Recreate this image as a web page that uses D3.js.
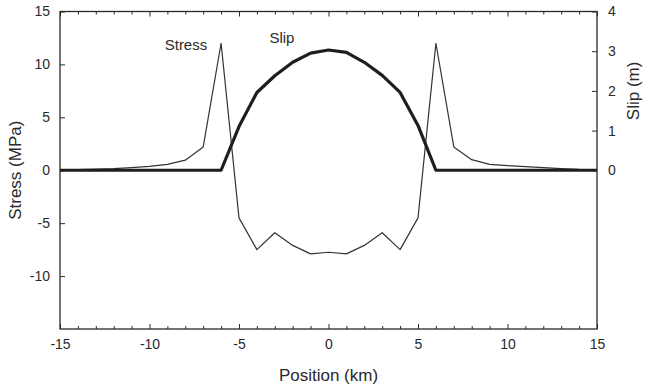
<!DOCTYPE html>
<html>
<head>
<meta charset="utf-8">
<script src="https://cdn.jsdelivr.net/npm/d3@7"></script>
<style>
  body { margin: 0; background: #fff; }
  svg { font-family: "Liberation Sans", Arial, sans-serif; }
</style>
</head>
<body>
<div id="chart"></div>
<script>
const positions = [-15, -14, -13, -12, -11, -10, -9, -8, -7, -6, -5, -4, -3, -2, -1, 0,
  1, 2, 3, 4, 5, 6, 7, 8, 9, 10, 11, 12, 13, 14, 15];
const stress = [0.05, 0.07, 0.1, 0.15, 0.25, 0.37, 0.55, 0.95, 2.2, 12, -4.5, -7.5, -5.9, -7.1, -7.9, -7.75,
  -7.9, -7.1, -5.9, -7.5, -4.5, 12, 2.2, 1.0, 0.55, 0.44, 0.35, 0.25, 0.15, 0.08, 0.05];
const slip = [0, 0, 0, 0, 0, 0, 0, 0, 0, 0, 1.1, 1.96, 2.38, 2.72, 2.95, 3.03,
  2.97, 2.72, 2.39, 1.96, 1.13, 0, 0, 0, 0, 0, 0, 0, 0, 0, 0];
const xTicks = [-15, -10, -5, 0, 5, 10, 15];
const stressTicks = [-10, -5, 0, 5, 10, 15];
const slipTicks = [0, 1, 2, 3, 4];

const width = 648;
const height = 387;
const margin = { top: 11.5, right: 51, bottom: 58, left: 60 };
const innerW = width - margin.left - margin.right;
const innerH = height - margin.top - margin.bottom;

const svg = d3
  .select("#chart")
  .append("svg")
  .attr("width", width)
  .attr("height", height);

const g = svg
  .append("g")
  .attr("transform", `translate(${margin.left},${margin.top})`);

const xScale = d3.scaleLinear().domain([-15, 15]).range([0, innerW]);
const yStress = d3.scaleLinear().domain([-15, 15]).range([innerH, 0]);
const ySlip = d3.scaleLinear().domain([-4, 4]).range([innerH, 0]);

const ink = "#2a2a2a";
const plain = (d) => String(d); // keep ascii hyphen like the scan

// minor x ticks, every km, top and bottom
const xMinor = positions.filter((p) => !xTicks.includes(p));

g.append("g")
  .attr("transform", `translate(0,${innerH})`)
  .call(d3.axisBottom(xScale).tickValues(xTicks).tickFormat(plain).tickSizeInner(-5).tickSizeOuter(0).tickPadding(10))
  .call((a) => a.select(".domain").remove())
  .call((a) => a.selectAll("text").style("font-size", "14px").attr("fill", ink).attr("dy", "0.71em"))
  .call((a) => a.selectAll("line").attr("stroke", ink));

g.append("g")
  .attr("transform", `translate(0,${innerH})`)
  .call(d3.axisBottom(xScale).tickValues(xMinor).tickSizeInner(-3).tickSizeOuter(0).tickFormat(""))
  .call((a) => a.select(".domain").remove())
  .call((a) => a.selectAll("line").attr("stroke", ink));

g.append("g")
  .call(d3.axisTop(xScale).tickValues(xTicks).tickSizeInner(-5).tickSizeOuter(0).tickFormat(""))
  .call((a) => a.select(".domain").remove())
  .call((a) => a.selectAll("line").attr("stroke", ink));

g.append("g")
  .call(d3.axisTop(xScale).tickValues(xMinor).tickSizeInner(-3).tickSizeOuter(0).tickFormat(""))
  .call((a) => a.select(".domain").remove())
  .call((a) => a.selectAll("line").attr("stroke", ink));

// left stress axis
g.append("g")
  .call(d3.axisLeft(yStress).tickValues(stressTicks).tickFormat(plain).tickSizeInner(-5).tickSizeOuter(0).tickPadding(10))
  .call((a) => a.select(".domain").remove())
  .call((a) => a.selectAll("text").style("font-size", "14px").attr("fill", ink))
  .call((a) => a.selectAll("line").attr("stroke", ink));

// right slip axis
g.append("g")
  .attr("transform", `translate(${innerW},0)`)
  .call(d3.axisRight(ySlip).tickValues(slipTicks).tickFormat(plain).tickSizeInner(-5).tickSizeOuter(0).tickPadding(11))
  .call((a) => a.select(".domain").remove())
  .call((a) => a.selectAll("text").style("font-size", "14px").attr("fill", ink))
  .call((a) => a.selectAll("line").attr("stroke", ink));

// frame
g.append("rect")
  .attr("x", 0)
  .attr("y", 0)
  .attr("width", innerW)
  .attr("height", innerH)
  .attr("fill", "none")
  .attr("stroke", ink)
  .attr("stroke-width", 1.3);

const stressLine = d3
  .line()
  .x((d, i) => xScale(positions[i]))
  .y((d) => yStress(d));

const slipLine = d3
  .line()
  .x((d, i) => xScale(positions[i]))
  .y((d) => ySlip(d));

g.append("path")
  .datum(stress)
  .attr("d", stressLine)
  .attr("fill", "none")
  .attr("stroke", "#333")
  .attr("stroke-width", 1.2)
  .attr("stroke-linejoin", "round");

g.append("path")
  .datum(slip)
  .attr("d", slipLine)
  .attr("fill", "none")
  .attr("stroke", "#1e1e1e")
  .attr("stroke-width", 3.2)
  .attr("stroke-linejoin", "round");

// curve labels
g.append("text")
  .attr("x", xScale(-9.15))
  .attr("y", 38)
  .style("font-size", "15px")
  .attr("fill", ink)
  .text("Stress");

g.append("text")
  .attr("x", xScale(-3.3))
  .attr("y", 31)
  .style("font-size", "15px")
  .attr("fill", ink)
  .text("Slip");

// axis titles
svg.append("text")
  .attr("transform", `translate(21,${margin.top + innerH / 2}) rotate(-90)`)
  .attr("text-anchor", "middle")
  .style("font-size", "17px")
  .attr("fill", ink)
  .text("Stress (MPa)");

svg.append("text")
  .attr("transform", `translate(639,${margin.top + ySlip(2)}) rotate(-90)`)
  .attr("text-anchor", "middle")
  .style("font-size", "17px")
  .attr("fill", ink)
  .text("Slip (m)");

svg.append("text")
  .attr("x", margin.left + innerW / 2)
  .attr("y", 381)
  .attr("text-anchor", "middle")
  .style("font-size", "17px")
  .attr("fill", ink)
  .text("Position (km)");
</script>
</body>
</html>
